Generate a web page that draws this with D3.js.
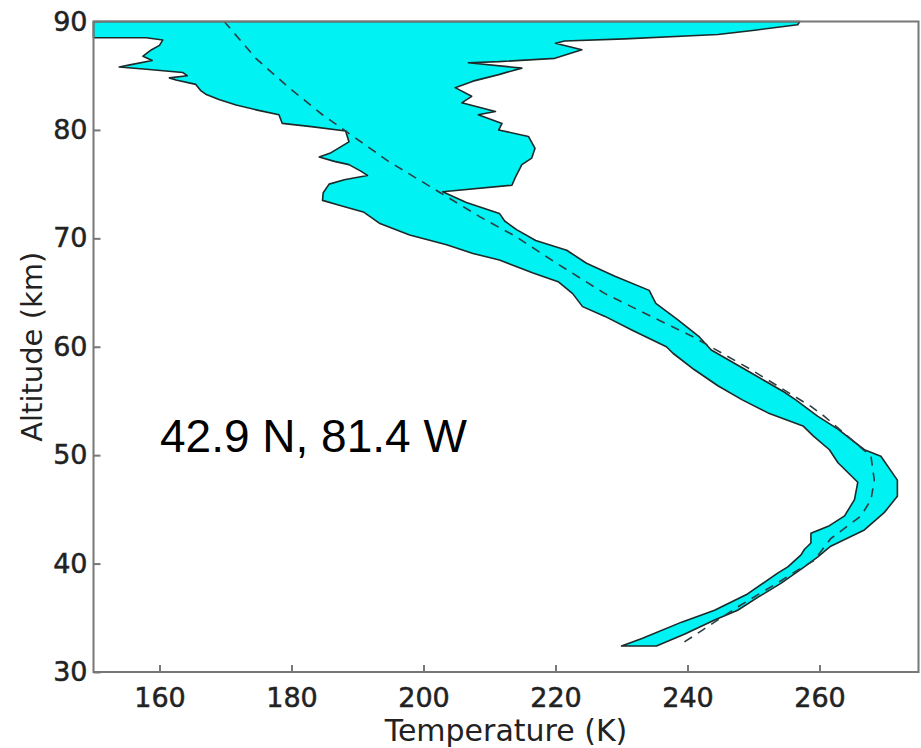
<!DOCTYPE html>
<html>
<head>
<meta charset="utf-8">
<script src="https://cdn.jsdelivr.net/npm/d3@7"></script>
<style>
  html, body { margin: 0; padding: 0; background: #fff; }
  svg { display: block; }
  .axis text { font-family: "DejaVu Sans", sans-serif; font-size: 27px; fill: #222; stroke: #222; stroke-width: 0.5; }
  .axis path, .axis line { stroke: #777; stroke-width: 2; }
</style>
</head>
<body>
<svg id="chart" width="921" height="748"></svg>
<script>
// Lidar temperature range (alt km, T K): cold edge top to bottom, warm edge bottom to top
const coldEdge = [
  [90, 150], [88.5, 150], [88.5, 158], [88.3, 160.5], [87.8, 160.0], [87.4, 158.8],
  [86.8, 157.5], [86.4, 158.9], [86.0, 155.5], [85.8, 153.9], [85.6, 158], [85.3, 163.5],
  [85.0, 164.2], [84.8, 161.5], [84.6, 162.5], [84.2, 165.5], [83.6, 166.3], [83.3, 167.0],
  [82.8, 169], [82.3, 171.6], [81.8, 175], [81.4, 178.1], [80.6, 178.6], [80.3, 183],
  [79.9, 188.2], [78.9, 188.7], [77.9, 186], [77.5, 184.2], [77.1, 186.5], [76.8, 188.7],
  [76.2, 190.5], [75.8, 191.5], [75.4, 188], [75.0, 185.7], [74.2, 184.8], [73.5, 184.7],
  [73.0, 187.5], [72.4, 191.0], [71.4, 193.3], [70.3, 197.9], [69.4, 203.5],
  [68.6, 207.5], [68.0, 211.5], [66.8, 216.6], [66.0, 220.4], [64.9, 222.6], [63.7, 224.1],
  [62.8, 227.5], [61.5, 231.7], [60.0, 236.8], [59.4, 237.8], [57.9, 241], [56.4, 244.6],
  [55.1, 248.3], [53.9, 252.2], [52.7, 257.5], [51.8, 259], [50.5, 261.5], [49.3, 262.8],
  [47.5, 265.8], [45.9, 265.3], [44.4, 263.8], [43.5, 261.5], [42.8, 258.7], [41.9, 258.7],
  [41.3, 257.7], [40.8, 257.2], [39.7, 255.2], [39.1, 253.6], [37.2, 249.1], [35.7, 244.1],
  [34.6, 239.1], [33.1, 233.1], [32.4, 230.0]
];
const warmEdge = [
  [32.4, 235.3], [33.5, 239.6], [34.8, 244.1], [35.7, 247.6], [36.9, 250.7], [38.2, 254.2],
  [39.7, 257.7], [40.6, 259.7], [41.6, 261.7], [43.1, 266.8], [44.7, 269.8], [46.2, 271.8],
  [47.7, 271.8], [49.9, 269.3], [50.5, 266.8], [52.4, 262.8], [53.6, 259.7], [55.1, 256.4],
  [55.8, 254.7], [57.6, 249.6], [59.7, 243.6], [60.9, 241.8], [62.5, 238.5], [64.0, 235.2],
  [65.2, 234.2], [66.5, 229], [67.7, 224.7], [68.9, 221.7], [69.8, 217], [70.8, 214.1],
  [71.6, 212.3], [72.3, 211.5], [73.3, 206.5], [74.3, 202.9], [74.9, 213.4], [75.6, 213.9],
  [76.8, 214.9], [77.4, 216.4], [78.3, 216.9], [79.4, 215.9], [80.0, 211.4], [80.6, 211.9],
  [81.4, 208.3], [81.7, 210.9], [82.5, 205.8], [83.1, 207.3], [83.9, 204.8], [84.5, 207.5],
  [85.1, 211.4], [85.7, 214.9], [86.2, 206.8], [86.3, 211.4], [86.6, 219.9], [87.4, 224],
  [88.0, 220], [88.2, 221.4], [88.4, 230.5], [88.8, 244.6], [89.2, 250.2], [89.7, 256.7],
  [90, 257]
];
// model profile (dashed)
const modelProfile = [
  [90, 169.8], [86.6, 174.6], [83.9, 179.6], [81.4, 184.7], [79.9, 188.2], [77.1, 194.7],
  [74.3, 202.3], [72.0, 208.5], [70.2, 213.9], [67.8, 219.9], [64.9, 227.5], [62.8, 234.5],
  [61.0, 240.6], [57.9, 249.6], [54.5, 258.7], [53.6, 260.7], [49.9, 267.8], [47.7, 268.3],
  [45.9, 267.8], [44.4, 266.3], [42.3, 261.7], [40.3, 259.2], [39.4, 256.7], [38.2, 253.6],
  [36.0, 247.6], [33.8, 242.1], [32.6, 239.1]
];
const xTicks = [160, 180, 200, 220, 240, 260];
const yTicks = [30, 40, 50, 60, 70, 80, 90];
const siteLabel = '42.9 N, 81.4 W';

const svg = d3.select('#chart');
const x = d3.scaleLinear().domain([150, 275]).range([93.5, 918.5]);
const y = d3.scaleLinear().domain([30, 90]).range([672, 21.5]);

const line = d3.line().x(d => x(d[1])).y(d => y(d[0]));

// band
svg.append('path')
  .attr('d', line(coldEdge.concat(warmEdge)) + 'Z')
  .attr('fill', '#00f2f2')
  .attr('stroke', '#1c2a2a')
  .attr('stroke-width', 1.6)
  .attr('stroke-linejoin', 'round');

// dashed model
svg.append('path')
  .attr('d', line(modelProfile))
  .attr('fill', 'none')
  .attr('stroke', '#2c3e44')
  .attr('stroke-width', 1.6)
  .attr('stroke-dasharray', '9,7');

// box
svg.append('rect')
  .attr('x', x(150)).attr('y', y(90))
  .attr('width', x(275) - x(150)).attr('height', y(30) - y(90))
  .attr('fill', 'none').attr('stroke', '#777').attr('stroke-width', 2);

svg.append('g')
  .attr('class', 'axis')
  .attr('transform', `translate(0,${y(30)})`)
  .call(d3.axisBottom(x).tickValues(xTicks).tickSize(-7).tickPadding(16).tickSizeOuter(0))
  .call(g => g.select('.domain').remove());

svg.append('g')
  .attr('class', 'axis')
  .attr('transform', `translate(${x(150)},0)`)
  .call(d3.axisLeft(y).tickValues(yTicks).tickSize(-7).tickPadding(6).tickSizeOuter(0))
  .call(g => g.select('.domain').remove());

// axis titles
svg.append('text')
  .attr('x', (x(150) + x(275)) / 2).attr('y', 741)
  .attr('text-anchor', 'middle')
  .style('font-family', '"DejaVu Sans", sans-serif').style('font-size', '30px').style('fill', '#222')
  .text('Temperature (K)');

svg.append('text')
  .attr('transform', `translate(42,${(y(30) + y(90)) / 2}) rotate(-90)`)
  .attr('text-anchor', 'middle')
  .style('font-family', '"DejaVu Sans", sans-serif').style('font-size', '29px').style('fill', '#222')
  .text('Altitude (km)');

svg.append('text')
  .attr('x', 160).attr('y', 452)
  .style('font-family', '"Liberation Sans", Arial, sans-serif').style('font-size', '46px').style('fill', '#000')
  .text(siteLabel);
</script>
</body>
</html>
